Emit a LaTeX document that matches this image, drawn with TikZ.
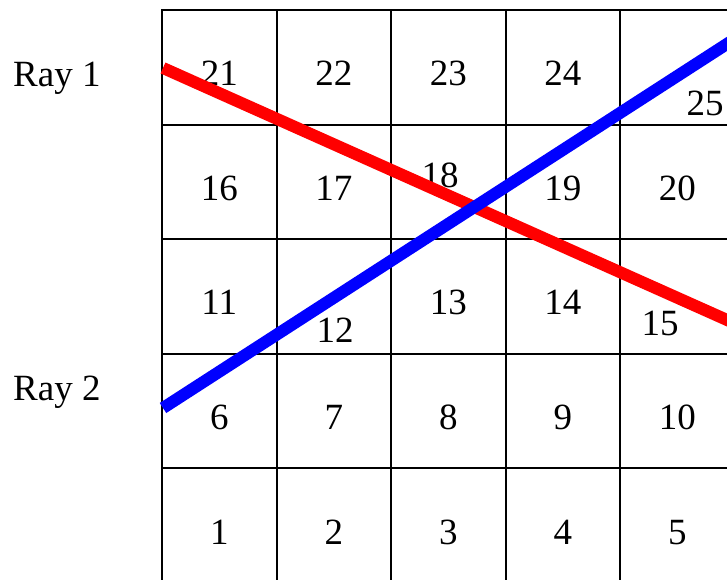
\documentclass[tikz,border=0pt]{standalone}
\usepackage{fontspec}
\setmainfont{Liberation Serif}
\begin{document}
\begin{tikzpicture}[x=1pt,y=-1pt,
  gridline/.style={line width=2pt,black},
  num/.style={anchor=base,inner sep=0pt,font=\fontsize{37}{40}\selectfont},
  lbl/.style={anchor=base west,inner sep=0pt,font=\fontsize{37}{40}\selectfont},
  ray/.style={line width=12pt,line cap=butt}]
\useasboundingbox (0,0) rectangle (727,579);
\clip (0,0) rectangle (727,579);
\fill[white] (0,0) rectangle (727,579);
% grid
\foreach \i in {0,...,5} {
  \draw[gridline] ({162+114.5*\i},10) -- ({162+114.5*\i},600);
  \draw[gridline] (161,{10+114.5*\i}) -- (760,{10+114.5*\i});
}
% numbers (regular ones)
\foreach \r/\base in {0/85,1/200,2/314,3/429,4/544} {
  \foreach \c in {0,...,4} {
    \pgfmathtruncatemacro{\n}{(4-\r)*5+\c+1}
    \ifnum\n=25 \else\ifnum\n=18 \else\ifnum\n=12 \else\ifnum\n=15 \else
      \node[num] (n\n) at ({162+57.25+114.5*\c},\base) {\n};
    \fi\fi\fi\fi
  }
}
\node[num] (n25) at (705,115) {25};
\node[num] (n18) at (440,187) {18};
\node[num] (n12) at (335,342) {12};
\node[num] (n15) at (660,335) {15};
% labels
\node[lbl] (ray1) at (13,86) {Ray 1};
\node[lbl] (ray2) at (13,400) {Ray 2};
% rays
\coordinate (r1a) at (163,68);
\coordinate (r1b) at (760,334.7);
\coordinate (r2a) at (163,408);
\coordinate (r2b) at (760,22.6);
\draw[ray,red] (r1a) -- (r1b);
\draw[ray,blue] (r2a) -- (r2b);
\end{tikzpicture}
\end{document}
